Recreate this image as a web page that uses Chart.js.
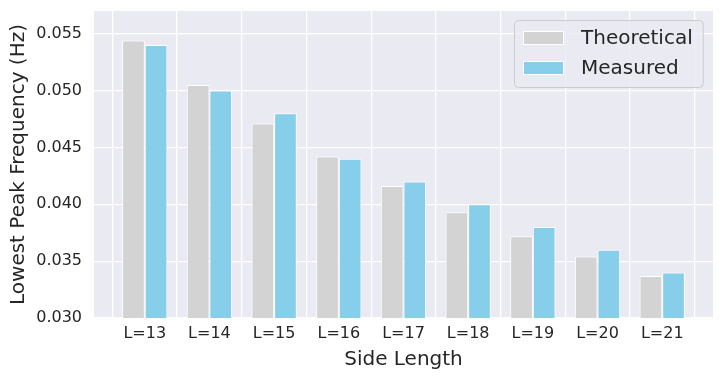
<!DOCTYPE html>
<html>
<head>
<meta charset="utf-8">
<script src="https://cdn.jsdelivr.net/npm/chart.js@4.4.1/dist/chart.umd.min.js"></script>
<style>
  html, body { margin: 0; padding: 0; background: #ffffff; }
  #wrap { width: 723px; height: 378px; }
</style>
</head>
<body>
<div id="wrap"><canvas id="c" width="723" height="378"></canvas></div>
<script>
const categories = ["L=13", "L=14", "L=15", "L=16", "L=17", "L=18", "L=19", "L=20", "L=21"];
const theoretical = [0.0544, 0.0505, 0.0471, 0.0442, 0.0416, 0.0393, 0.0372, 0.0354, 0.0337];
const measured = [0.0540, 0.0500, 0.0480, 0.0440, 0.0420, 0.0400, 0.0380, 0.0360, 0.0340];
const yTicks = [0.030, 0.035, 0.040, 0.045, 0.050, 0.055];
const seriesNames = ["Theoretical", "Measured"];
const seriesColors = ["#D3D3D3", "#87CEEB"];

const TEXT = "#262626";
const FONT = "'DejaVu Sans', sans-serif";

const bgPlugin = {
  id: "bgPlugin",
  beforeDraw(chart) {
    const { ctx, chartArea: a } = chart;
    ctx.save();
    ctx.fillStyle = "#EAEAF2";
    ctx.fillRect(a.left, a.top, a.right - a.left, a.bottom - a.top);
    ctx.restore();
  }
};

const legendPlugin = {
  id: "legendPlugin",
  afterDraw(chart) {
    const { ctx, chartArea: a } = chart;
    const ds = chart.data.datasets;
    ctx.save();
    ctx.font = "20px " + FONT;
    let maxW = 0;
    ds.forEach(d => { maxW = Math.max(maxW, ctx.measureText(d.label).width); });
    const boxW = 8 + 41 + 17 + maxW + 11;
    const rowH = 30.5;
    const boxH = 67;
    const x0 = Math.round(a.right - 10 - boxW) + 0.5;
    const y0 = a.top + 9.5;
    const r = 4;
    ctx.beginPath();
    ctx.moveTo(x0 + r, y0);
    ctx.lineTo(x0 + boxW - r, y0);
    ctx.arcTo(x0 + boxW, y0, x0 + boxW, y0 + r, r);
    ctx.lineTo(x0 + boxW, y0 + boxH - r);
    ctx.arcTo(x0 + boxW, y0 + boxH, x0 + boxW - r, y0 + boxH, r);
    ctx.lineTo(x0 + r, y0 + boxH);
    ctx.arcTo(x0, y0 + boxH, x0, y0 + boxH - r, r);
    ctx.lineTo(x0, y0 + r);
    ctx.arcTo(x0, y0, x0 + r, y0, r);
    ctx.closePath();
    ctx.fillStyle = "rgba(234,234,242,0.8)";
    ctx.fill();
    ctx.strokeStyle = "#CCCCCC";
    ctx.lineWidth = 1;
    ctx.stroke();
    ds.forEach((d, i) => {
      const cy = Math.round(y0 + 17 + i * rowH);
      const px = Math.round(x0 + 8);
      ctx.fillStyle = d.backgroundColor;
      ctx.fillRect(px, cy - 7, 41, 14);
      ctx.strokeStyle = "#ffffff";
      ctx.lineWidth = 1;
      ctx.strokeRect(px + 0.5, cy - 6.5, 40, 13);
      ctx.fillStyle = TEXT;
      ctx.textBaseline = "middle";
      ctx.textAlign = "left";
      ctx.fillText(d.label, px + 41 + 17, cy + 1);
    });
    ctx.restore();
  }
};

const makeData = vals => vals.map((v, i) => ({ x: i, y: v }));

new Chart(document.getElementById("c"), {
  type: "bar",
  data: {
    datasets: [
      { label: seriesNames[0], data: makeData(theoretical), backgroundColor: seriesColors[0], borderColor: "#ffffff", borderWidth: 1 },
      { label: seriesNames[1], data: makeData(measured), backgroundColor: seriesColors[1], borderColor: "#ffffff", borderWidth: 1 }
    ]
  },
  options: {
    responsive: false,
    animation: false,
    devicePixelRatio: 1,
    categoryPercentage: 0.7,
    barPercentage: 1.0,
    layout: { padding: { top: 11, right: 10, left: 3, bottom: 0 } },
    plugins: { legend: { display: false }, tooltip: { enabled: false } },
    scales: {
      x: {
        type: "linear",
        min: -0.785,
        max: 8.785,
        offset: false,
        afterBuildTicks(scale) { scale.ticks = categories.map((c, i) => ({ value: i })); },
        afterFit(scale) { scale.height = 60; scale.paddingLeft = 0; scale.paddingRight = 0; },
        ticks: {
          callback: (v) => categories[Math.round(v)],
          font: { family: FONT, size: 16 },
          color: TEXT,
          padding: 6,
          maxRotation: 0,
          autoSkip: false
        },
        grid: { color: "#ffffff", lineWidth: 1.25, drawTicks: false },
        border: { display: false },
        title: {
          display: true,
          text: "Side Length",
          font: { family: FONT, size: 20 },
          color: TEXT,
          padding: { top: 4, bottom: 6 }
        }
      },
      y: {
        min: 0.030,
        max: 0.0570,
        afterBuildTicks(scale) { scale.ticks = yTicks.map(v => ({ value: v })); },
        afterFit(scale) { scale.width = 91; scale.paddingTop = 0; scale.paddingBottom = 0; },
        ticks: {
          callback: (v) => v.toFixed(3),
          font: { family: FONT, size: 16 },
          color: TEXT,
          padding: 12
        },
        grid: { color: "#ffffff", lineWidth: 1.25, drawTicks: false },
        border: { display: false },
        title: {
          display: true,
          text: "Lowest Peak Frequency (Hz)",
          font: { family: FONT, size: 20 },
          color: TEXT,
          padding: { top: 4, bottom: 4 }
        }
      }
    }
  },
  plugins: [bgPlugin, legendPlugin]
});
</script>
</body>
</html>
